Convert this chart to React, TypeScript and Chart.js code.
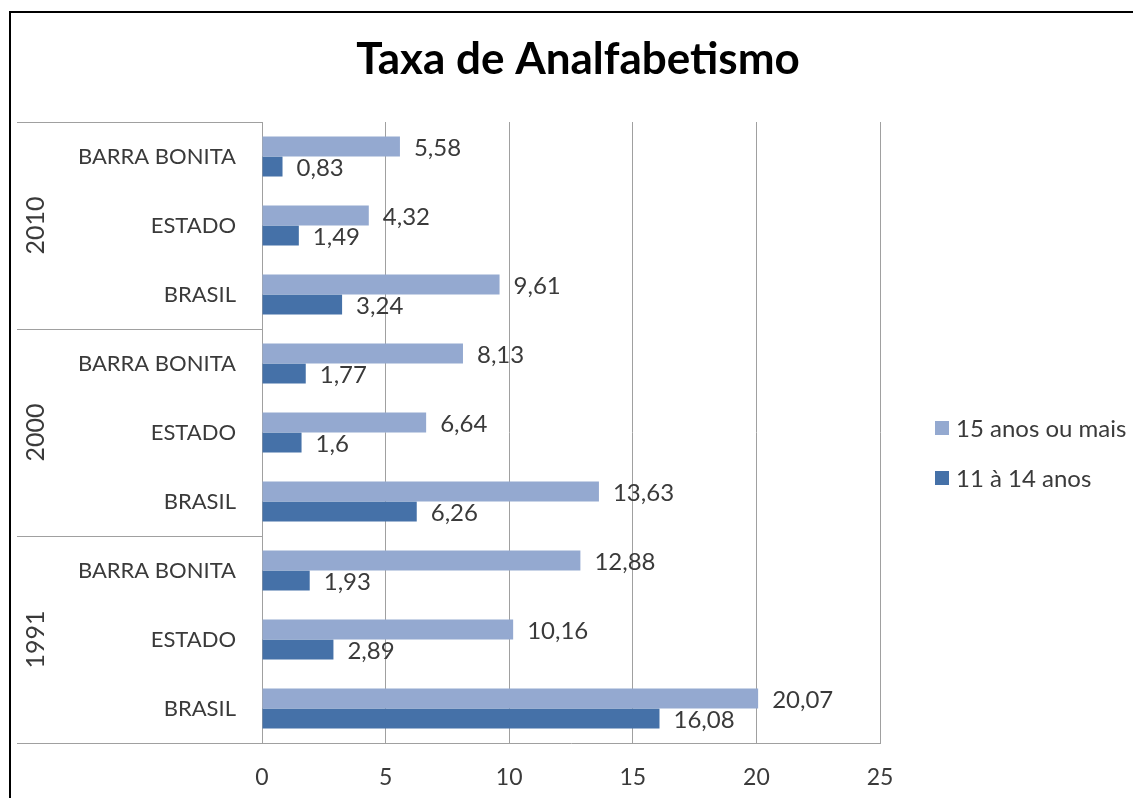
import React, { useEffect, useRef } from "react";
import { Chart, registerables } from "chart.js";

Chart.register(...registerables);

const title = "Taxa de Analfabetismo";
const categories = [
  "BARRA BONITA", "ESTADO", "BRASIL",
  "BARRA BONITA", "ESTADO", "BRASIL",
  "BARRA BONITA", "ESTADO", "BRASIL",
];
const years = ["2010", "2000", "1991"];
const seriesNames = ["15 anos ou mais", "11 à 14 anos"];
const adults = [5.58, 4.32, 9.61, 8.13, 6.64, 13.63, 12.88, 10.16, 20.07];
const youth = [0.83, 1.49, 3.24, 1.77, 1.6, 6.26, 1.93, 2.89, 16.08];
const xTicks = [0, 5, 10, 15, 20, 25];

const FONT = "Lato, 'Open Sans', sans-serif";
const TEXT = "#3a3a3a";
const GRID = "#a0a0a0";
const LIGHT = "#94a9d0";
const DARK = "#4571a8";

const fmt = (v: number) => String(v).replace(".", ",");

const decor = {
  id: "decor",
  beforeDraw(chart: any) {
    const ctx = chart.ctx;
    ctx.save();
    ctx.fillStyle = "#fff";
    ctx.fillRect(0, 0, chart.width, chart.height);
    ctx.restore();
  },
  afterDraw(chart: any) {
    const ctx = chart.ctx;
    const area = chart.chartArea;
    ctx.save();
    // frame
    ctx.strokeStyle = "#000";
    ctx.lineWidth = 2;
    ctx.beginPath();
    ctx.moveTo(10, chart.height + 10);
    ctx.lineTo(10, 12);
    ctx.lineTo(chart.width + 10, 12);
    ctx.stroke();

    // title
    ctx.fillStyle = "#000";
    ctx.font = `bold 44px ${FONT}`;
    ctx.textAlign = "center";
    ctx.textBaseline = "middle";
    ctx.fillText(title, 578, 60);

    // group separators and year labels
    const n = categories.length;
    const h = (area.bottom - area.top) / n;
    const per = n / years.length;
    ctx.strokeStyle = GRID;
    ctx.lineWidth = 1;
    for (let g = 0; g <= years.length; g++) {
      const yy = Math.round(area.top + g * per * h) + 0.5;
      ctx.beginPath();
      ctx.moveTo(17, yy);
      ctx.lineTo(area.left, yy);
      ctx.stroke();
    }
    ctx.fillStyle = TEXT;
    ctx.font = `25px ${FONT}`;
    years.forEach((yr, g) => {
      const cy = area.top + (g * per + per / 2) * h;
      ctx.save();
      ctx.translate(36, cy);
      ctx.rotate(-Math.PI / 2);
      ctx.textAlign = "center";
      ctx.textBaseline = "middle";
      ctx.fillText(yr, 0, 0);
      ctx.restore();
    });

    // data labels
    ctx.font = `24px ${FONT}`;
    ctx.textAlign = "left";
    ctx.textBaseline = "middle";
    chart.data.datasets.forEach((ds: any, i: number) => {
      const meta = chart.getDatasetMeta(i);
      meta.data.forEach((el: any, j: number) => {
        ctx.fillText(fmt(ds.data[j]), el.x + 14, el.y + 2);
      });
    });

    // legend
    const ly = [428, 478];
    chart.data.datasets.forEach((ds: any, i: number) => {
      ctx.fillStyle = ds.backgroundColor;
      ctx.fillRect(935, ly[i] - 7, 14, 14);
      ctx.fillStyle = TEXT;
      ctx.fillText(ds.label, 956, ly[i] + 1);
    });
    ctx.restore();
  },
};

export default function App() {
  const ref = useRef<HTMLCanvasElement>(null);
  useEffect(() => {
    if (!ref.current) return;
    const chart = new Chart(ref.current, {
      type: "bar",
      data: {
        labels: categories,
        datasets: [
          { label: seriesNames[0], data: adults, backgroundColor: LIGHT },
          { label: seriesNames[1], data: youth, backgroundColor: DARK },
        ],
      },
      options: {
        indexAxis: "y",
        animation: false,
        responsive: false,
        layout: { padding: { top: 122, right: 253, left: 0, bottom: 0 } },
        datasets: { bar: { categoryPercentage: 0.58, barPercentage: 1 } },
        plugins: {
          legend: { display: false },
          title: { display: false },
          tooltip: { enabled: false },
        },
        scales: {
          x: {
            min: 0,
            max: 25,
            afterBuildTicks: (s: any) => {
              s.ticks = xTicks.map((v) => ({ value: v }));
            },
            ticks: { font: { family: FONT, size: 23 }, color: TEXT, padding: 21 },
            grid: { color: GRID, drawTicks: false },
            border: { display: true, color: GRID },
            afterFit: (s: any) => {
              s.height = 55;
            },
          },
          y: {
            grid: { display: false, drawTicks: false },
            border: { display: true, color: GRID },
            ticks: { font: { family: FONT, size: 22 }, color: TEXT, padding: 26 },
            afterFit: (s: any) => {
              s.width = 262;
            },
          },
        },
      } as any,
      plugins: [decor],
    });
    return () => chart.destroy();
  }, []);
  return (
    <div style={{ position: "absolute", left: 0, top: 0 }}>
      <canvas ref={ref} width={1133} height={798} />
    </div>
  );
}
